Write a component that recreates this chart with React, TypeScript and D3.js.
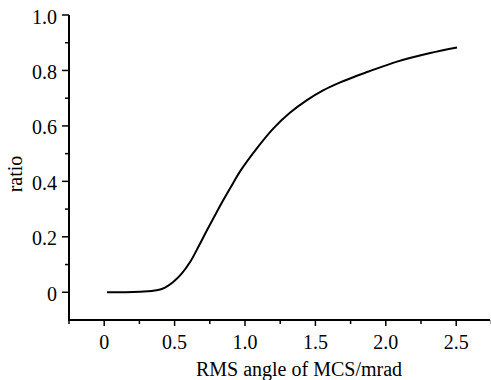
import * as d3 from "d3"

const xs = [0.02, 0.15, 0.255, 0.373, 0.432, 0.49, 0.55, 0.61, 0.669, 0.728, 0.787, 0.846, 0.918, 0.965, 1.084, 1.202, 1.321, 1.44, 1.558, 1.676, 1.795, 1.878, 2.08, 2.316, 2.506]
const ys = [0, 0, 0.002, 0.007, 0.017, 0.037, 0.067, 0.109, 0.164, 0.222, 0.278, 0.333, 0.396, 0.436, 0.519, 0.591, 0.648, 0.693, 0.729, 0.757, 0.781, 0.796, 0.832, 0.863, 0.883]
const xTicks = [0, 0.5, 1.0, 1.5, 2.0, 2.5]
const yTicks = [0, 0.2, 0.4, 0.6, 0.8, 1.0]

const W = 491, H = 380
const FONT = "'Liberation Serif', 'Times New Roman', serif"

export default function App() {
  const x = d3.scaleLinear().domain([-0.25, 2.74]).range([69, 490])
  const y = d3.scaleLinear().domain([-0.1, 1.0]).range([320, 15])
  const pts: [number, number][] = xs.map((v, i) => [v, ys[i]])
  const line = d3.line<[number, number]>().x(d => x(d[0])).y(d => y(d[1])).curve(d3.curveCatmullRom.alpha(0.5))
  const fmt = (d: number) => (d === 0 ? "0" : d3.format(".1f")(d))
  const xMinor = d3.range(-0.25, 2.76, 0.25).filter(v => !xTicks.some(t => Math.abs(t - v) < 1e-6))
  const yMinor = d3.range(-0.1, 1.001, 0.1).filter(v => !yTicks.some(t => Math.abs(t - v) < 1e-6) && v > -0.09)

  return (
    <svg width={W} height={H} style={{ position: "absolute", left: 0, top: 0, background: "#fff", fontFamily: FONT }}>
      <path d={line(pts) ?? ""} fill="none" stroke="#000" strokeWidth={2} />
      {/* y axis */}
      <line x1={69} x2={69} y1={y(1.0)} y2={320} stroke="#000" strokeWidth={2} />
      {yTicks.map(t => (
        <g key={"y" + t}>
          <line x1={62} x2={69} y1={y(t)} y2={y(t)} stroke="#000" strokeWidth={1.5} />
          <text x={57} y={y(t) + 8.5} textAnchor="end" fontSize={20}>{fmt(t)}</text>
        </g>
      ))}
      {yMinor.map(t => (
        <line key={"ym" + t} x1={65} x2={69} y1={y(t)} y2={y(t)} stroke="#000" strokeWidth={1.5} />
      ))}
      {/* x axis */}
      <line x1={68} x2={490} y1={320} y2={320} stroke="#000" strokeWidth={2} />
      {xTicks.map(t => (
        <g key={"x" + t}>
          <line x1={x(t)} x2={x(t)} y1={320} y2={326} stroke="#000" strokeWidth={1.5} />
          <text x={x(t)} y={349} textAnchor="middle" fontSize={20}>{fmt(t)}</text>
        </g>
      ))}
      {xMinor.map(t => (
        <line key={"xm" + t} x1={x(t)} x2={x(t)} y1={320} y2={324} stroke="#000" strokeWidth={1.5} />
      ))}
      <text x={299} y={376} textAnchor="middle" fontSize={20}>RMS angle of MCS/mrad</text>
      <text transform="translate(22,174) rotate(-90)" textAnchor="middle" fontSize={20}>ratio</text>
    </svg>
  )
}
